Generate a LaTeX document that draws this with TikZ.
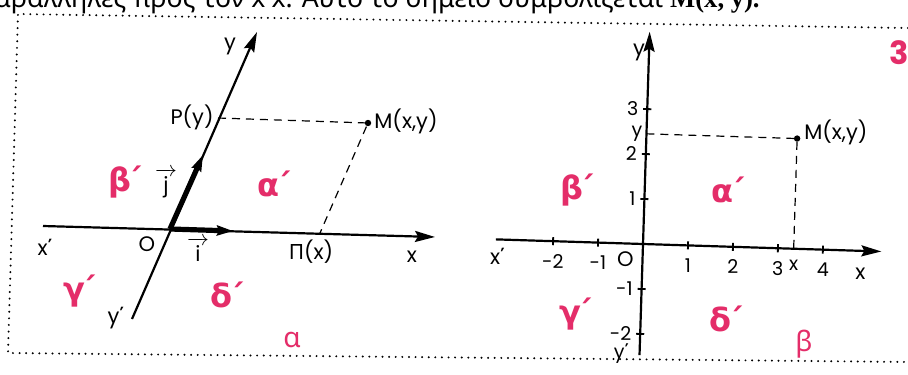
\documentclass[tikz,border=0pt]{standalone}
\usepackage{amsmath}
\usepackage{fontspec}
\usepackage{xcolor}
\setmainfont{Poppins}
\newfontfamily\greekfont{Noto Sans}
\newfontfamily\quadfont{DejaVu Sans}
\newfontfamily\headserif{Liberation Serif}
\usetikzlibrary{arrows.meta}
\definecolor{quadpink}{RGB}{228,45,105}
\newcommand{\primemark}{{\greekfont ΄}}
\newcommand{\quadname}[1]{#1\kern-0.12em΄}
\newcommand{\vecl}[1]{$\overrightarrow{\hbox{\,#1\,}}$}

\begin{document}
\begin{tikzpicture}[x=0.5pt, y=-0.5pt,
    axis/.style={line width=1.1pt, -{Stealth[length=10pt, width=5.5pt, inset=1.5pt]}},
    unitvec/.style={line width=2.6pt, -{Stealth[length=8pt, width=5pt, inset=1pt]}},
    guide/.style={line width=0.6pt, dash pattern=on 4pt off 3pt},
    tickmark/.style={line width=0.9pt},
    lbl/.style={font=\fontsize{10.5}{12}\selectfont, inner sep=1pt},
    num/.style={font=\fontsize{9.5}{11}\selectfont, inner sep=1pt},
    quad/.style={text=quadpink, font=\quadfont\bfseries\fontsize{16}{17}\selectfont},
    caption/.style={text=quadpink, font=\greekfont\fontsize{14}{16}\selectfont},
    frame/.style={line width=1.1pt, dash pattern=on 0pt off 3.3pt, line cap=round}]

    \useasboundingbox (0,0) rectangle (908,374);
    \fill[white] (0,0) rectangle (908,374);
    \clip (0,0) rectangle (908,374);

    % Last line of the text above, cut off by the page edge
    \node[anchor=base east, inner sep=0pt, font=\greekfont\fontsize{13.3}{14}\selectfont] (head)
        at (760,8) {παράλληλες προς τον x΄x. Αυτό το σημείο συμβολίζεται
        {\headserif\bfseries M(x, y).}};

    % Dotted frame (it runs on past the right edge)
    \draw[frame] (908,28) -- (18,14) -- (8,353) -- (908,362);

    % ---- alpha: oblique axes ----
    \coordinate (O) at (170,229);
    \coordinate (Xl) at (43,226);
    \coordinate (Xr) at (435,237);
    \coordinate (Yb) at (132,319);
    \coordinate (Yt) at (257,32);
    \coordinate (I) at (233,231);
    \coordinate (J) at (203,155);
    \coordinate (P) at (218,118);
    \coordinate (M) at (368,123);
    \coordinate (Pi) at (320,233);

    \draw[axis] (Xl) -- (Xr);
    \draw[axis] (Yb) -- (Yt);
    \draw[unitvec] (O) -- (I);
    \draw[unitvec] (O) -- (J);

    % parallels through M
    \draw[guide] (P) -- (M) -- (Pi);
    \fill (M) circle (1.6pt);

    \node[lbl] (ylab) at (230,46) {y};
    \node[lbl] (ypr) at (116,318) {y\primemark};
    \node[lbl] (xlab) at (412,257) {x};
    \node[lbl] (xpr) at (45,247) {x\primemark};
    \node[lbl] (olab) at (147,244) {O};
    \node[lbl, anchor=east] (plab) at (216,117) {P(y)};
    \node[lbl, anchor=west] (mlab) at (372,121) {M(x,y)};
    \node[lbl] (pilab) at (311,252) {{\greekfont Π}(x)};
    \node[lbl] (ilab) at (198,249) {\vecl{i}};
    \node[lbl] (jlab) at (166,183) {\vecl{j}};

    \node[quad] (qb1) at (125,182) {\quadname{β}};
    \node[quad] (qa1) at (274,184) {\quadname{α}};
    \node[quad] (qc1) at (80,291) {\quadname{γ}};
    \node[quad] (qd1) at (227,295) {\quadname{δ}};
    \node[caption] (capa) at (292,340) {α};

    % ---- beta: rectangular axes, unit = 45px ----
    \begin{scope}[shift={(643,244)}, x=22.5pt, y=22.5pt, rotate=-1.8]
        \coordinate (O2) at (0,0);
        \draw[axis] (-3.27,0) -- (5.3,0);
        \draw[axis] (0,-2.47) -- (0,4.72);

        \foreach \t in {-2,-1,1,2,3,4}
            \draw[tickmark] (\t,-0.09) -- (\t,0.09)
                node[num, pos=0, below=3pt] {\t};
        \foreach \t in {-2,-1,1,2,3}
            \draw[tickmark] (-0.09,\t) -- (0.09,\t)
                node[num, pos=0, left=1pt] {\t};

        \coordinate (My) at (0,2.45);
        \coordinate (M2) at (3.35,2.45);
        \coordinate (Mx) at (3.35,0);
        \draw[guide] (My) -- (M2) -- (Mx);
        \fill (M2) circle (1.6pt);

        \node[num, anchor=east] (ytick) at (-0.04,2.45) {y};
        \node[num] (xtick) at (3.36,-0.36) {x};
        \node[lbl] (o2lab) at (-0.38,-0.36) {O};
        \node[lbl] (y2lab) at (-0.22,4.25) {y};
        \node[num] (y2pr) at (-0.4,-2.45) {y\primemark};
        \node[lbl] (x2lab) at (4.85,-0.5) {x};
        \node[lbl] (x2pr) at (-3.22,-0.38) {x\primemark};
        \node[lbl, anchor=west] (m2lab) at (3.45,2.6) {M(x,y)};
    \end{scope}

    \node[quad] (qb2) at (577,190) {\quadname{β}};
    \node[quad] (qa2) at (728,190) {\quadname{α}};
    \node[quad] (qc2) at (576,314) {\quadname{γ}};
    \node[quad] (qd2) at (726,319) {\quadname{δ}};
    \node[caption] (capb) at (804,344) {β};
    \node[text=quadpink, font=\bfseries\fontsize{16}{17}\selectfont] (fignum) at (899,53) {3};

\end{tikzpicture}
\end{document}
